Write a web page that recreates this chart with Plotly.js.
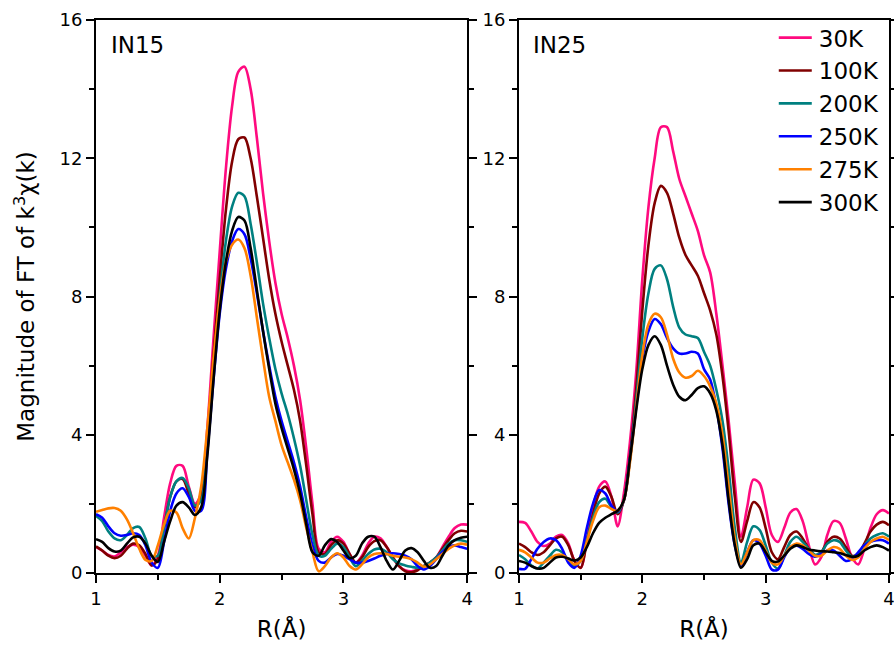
<!DOCTYPE html>
<html>
<head>
<meta charset="utf-8">
<script src="https://cdn.plot.ly/plotly-3.0.1.min.js"></script>
<style>html,body{margin:0;padding:0;background:#fff;}#chart{width:894px;height:646px;}</style>
</head>
<body>
<div id="chart"></div>
<script>
// R grid (Å), shared by all series
const R = [1.00,1.05,1.10,1.15,1.20,1.25,1.30,1.35,1.40,1.45,1.50,1.55,1.60,1.65,1.70,1.75,1.80,1.85,1.90,1.95,
  2.00,2.05,2.10,2.15,2.20,2.25,2.30,2.35,2.40,2.45,2.50,2.55,2.60,2.65,2.70,2.75,2.80,2.85,2.90,2.95,
  3.00,3.05,3.10,3.15,3.20,3.25,3.30,3.35,3.40,3.45,3.50,3.55,3.60,3.65,3.70,3.75,3.80,3.85,3.90,3.95,4.00];

const seriesNames = ['30K','100K','200K','250K','275K','300K'];
const seriesColors = ['#FF0A7F','#800000','#008080','#0000FF','#FF8000','#000000'];
const panelLabels = ['IN15','IN25'];

// IN15 panel
const in15_30K = [0.75,0.65,0.52,0.48,0.60,0.75,0.82,0.75,0.50,0.22,0.50,1.60,2.60,3.10,3.10,2.50,2.00,2.30,4.20,6.80,
  9.30,11.7,13.5,14.5,14.65,14.0,12.6,11.0,9.60,8.40,7.50,6.80,6.00,5.00,3.60,2.00,0.70,0.60,0.90,1.05,
  0.90,0.55,0.30,0.50,0.85,1.05,1.00,0.75,0.45,0.20,0.08,0.05,0.10,0.20,0.30,0.45,0.75,1.05,1.30,1.40,1.40];
const in15_100K = [0.77,0.65,0.50,0.43,0.50,0.70,0.85,0.80,0.55,0.22,0.40,1.30,2.20,2.65,2.72,2.30,1.90,2.20,3.90,6.30,
  8.50,10.5,11.9,12.55,12.6,12.0,10.9,9.70,8.50,7.50,6.70,6.00,5.30,4.40,3.10,1.70,0.60,0.55,0.80,0.95,
  0.85,0.55,0.30,0.45,0.75,0.92,0.95,0.75,0.45,0.20,0.05,0.02,0.08,0.20,0.30,0.45,0.70,0.95,1.15,1.22,1.20];
const in15_200K = [1.65,1.50,1.20,1.00,0.95,1.10,1.30,1.33,1.00,0.50,0.50,1.30,2.20,2.65,2.75,2.45,1.95,2.10,3.80,6.00,
  8.00,9.60,10.6,11.0,10.9,10.1,9.00,7.80,6.80,5.90,5.20,4.60,3.90,3.10,2.10,1.10,0.50,0.50,0.70,0.85,
  0.75,0.45,0.20,0.35,0.55,0.68,0.70,0.60,0.40,0.28,0.22,0.18,0.15,0.20,0.30,0.45,0.65,0.85,0.95,0.95,0.90];
const in15_250K = [1.70,1.60,1.35,1.15,1.08,1.10,1.15,1.10,0.80,0.30,0.15,0.90,1.80,2.30,2.45,2.20,1.80,1.80,3.50,5.60,
  7.50,8.80,9.60,9.95,9.80,9.10,8.10,7.00,6.00,5.10,4.40,3.80,3.20,2.50,1.60,0.80,0.35,0.30,0.45,0.55,
  0.50,0.40,0.30,0.30,0.35,0.42,0.50,0.55,0.57,0.55,0.50,0.40,0.20,0.10,0.20,0.40,0.60,0.75,0.80,0.75,0.70];
const in15_275K = [1.77,1.82,1.87,1.88,1.80,1.55,1.15,0.70,0.38,0.35,0.80,1.40,1.80,1.75,1.30,1.00,1.60,2.50,4.20,6.20,
  7.90,9.00,9.50,9.65,9.40,8.60,7.40,6.20,5.10,4.40,3.70,3.20,2.70,2.10,1.30,0.60,0.05,0.20,0.45,0.57,
  0.45,0.20,0.10,0.25,0.45,0.55,0.57,0.55,0.50,0.47,0.45,0.40,0.30,0.18,0.25,0.40,0.55,0.70,0.80,0.85,0.82];
const in15_300K = [0.98,0.90,0.72,0.62,0.65,0.85,1.03,1.05,0.85,0.50,0.32,0.90,1.50,1.95,2.05,1.90,1.68,1.90,3.40,5.60,
  7.60,9.00,9.90,10.3,10.2,9.40,8.20,7.00,5.90,4.90,4.20,3.60,3.00,2.30,1.40,0.60,0.50,0.80,0.98,0.90,
  0.65,0.43,0.50,0.85,1.05,1.05,0.75,0.35,0.10,0.35,0.65,0.72,0.60,0.35,0.15,0.20,0.50,0.80,0.95,1.02,1.05];

// IN25 panel
const in25_30K = [1.48,1.45,1.20,0.90,0.78,0.85,1.05,1.10,0.85,0.35,0.15,1.00,1.90,2.50,2.65,2.20,1.35,2.30,3.80,5.80,
  8.50,10.6,12.0,12.9,12.9,12.2,11.4,10.9,10.4,9.90,9.20,8.70,7.50,6.00,4.40,2.60,1.05,1.90,2.70,2.60,
  1.90,1.10,0.90,1.30,1.75,1.85,1.50,0.80,0.25,0.45,1.10,1.50,1.45,1.00,0.45,0.25,0.70,1.30,1.70,1.82,1.72];
const in25_100K = [0.85,0.75,0.60,0.52,0.60,0.80,1.00,1.05,0.80,0.35,0.15,0.90,1.70,2.30,2.50,2.20,1.70,2.10,3.40,5.30,
  7.60,9.50,10.7,11.2,11.0,10.4,9.70,9.20,8.90,8.60,8.10,7.60,6.90,5.70,4.10,2.20,0.90,1.50,2.05,1.90,
  1.30,0.60,0.40,0.75,1.10,1.20,1.00,0.70,0.50,0.60,0.90,1.05,1.00,0.75,0.50,0.55,0.85,1.20,1.40,1.48,1.38];
const in25_200K = [0.52,0.40,0.22,0.13,0.30,0.50,0.67,0.60,0.35,0.20,0.35,0.95,1.60,2.05,2.15,1.90,1.75,2.10,3.30,5.00,
  6.80,8.10,8.80,8.90,8.50,7.70,7.10,6.90,6.85,6.80,6.40,6.00,5.30,4.40,3.00,1.30,0.30,0.90,1.35,1.25,
  0.80,0.30,0.13,0.50,0.90,1.05,0.90,0.70,0.53,0.60,0.85,0.95,0.90,0.65,0.47,0.55,0.80,1.00,1.10,1.15,1.05];
const in25_250K = [0.12,0.12,0.40,0.70,0.90,1.00,0.95,0.70,0.30,0.15,0.50,1.30,2.00,2.40,2.30,1.95,1.78,2.10,3.30,4.80,
  6.20,7.00,7.35,7.20,6.80,6.50,6.35,6.35,6.40,6.35,5.90,5.60,4.80,3.60,2.00,0.80,0.20,0.60,0.95,0.85,
  0.50,0.10,0.10,0.45,0.75,0.80,0.70,0.55,0.47,0.55,0.65,0.65,0.50,0.35,0.40,0.60,0.80,0.90,0.95,0.95,0.85];
const in25_275K = [0.67,0.60,0.45,0.30,0.30,0.42,0.52,0.52,0.40,0.25,0.35,0.90,1.50,1.90,1.95,1.85,1.80,2.10,3.20,4.80,
  6.30,7.20,7.50,7.40,6.90,6.20,5.80,5.65,5.70,5.85,5.70,5.40,4.90,4.00,2.50,1.00,0.25,0.60,0.95,0.95,
  0.65,0.30,0.25,0.50,0.75,0.85,0.80,0.65,0.50,0.50,0.65,0.75,0.70,0.50,0.38,0.45,0.70,0.90,1.00,1.05,0.95];
const in25_300K = [0.35,0.30,0.20,0.13,0.15,0.30,0.45,0.47,0.42,0.36,0.45,0.75,1.15,1.45,1.60,1.70,1.80,2.10,3.30,4.70,
  5.90,6.60,6.85,6.60,6.00,5.45,5.10,5.00,5.15,5.35,5.40,5.20,4.70,3.70,2.10,0.80,0.15,0.40,0.80,0.85,
  0.60,0.35,0.33,0.50,0.70,0.80,0.75,0.68,0.65,0.63,0.62,0.60,0.58,0.52,0.47,0.50,0.65,0.75,0.80,0.75,0.65];

const xTickVals = [1,2,3,4];
const yTickVals = [0,4,8,12,16];

const left = [in15_30K,in15_100K,in15_200K,in15_250K,in15_275K,in15_300K];
const right = [in25_30K,in25_100K,in25_200K,in25_250K,in25_275K,in25_300K];

const FONT = '"DejaVu Sans", Arial, sans-serif';
const traces = [];
left.forEach((ys,i)=>traces.push({x:R,y:ys,xaxis:'x',yaxis:'y',type:'scatter',mode:'lines',
  name:seriesNames[i],legendgroup:'g'+i,showlegend:false,
  line:{color:seriesColors[i],width:2.6,shape:'spline',smoothing:0.9}}));
right.forEach((ys,i)=>traces.push({x:R,y:ys,xaxis:'x2',yaxis:'y2',type:'scatter',mode:'lines',
  name:seriesNames[i],legendgroup:'g'+i,showlegend:true,
  line:{color:seriesColors[i],width:2.6,shape:'spline',smoothing:0.9}}));

function xax(dom){return {domain:dom,range:[1,4],tickvals:xTickVals,ticktext:xTickVals.map(String),
  ticks:'outside',ticklen:8,tickwidth:2,tickcolor:'#000',showline:true,linewidth:2,linecolor:'#000',mirror:true,
  showgrid:false,zeroline:false,ticklabeloverflow:'allow',tickfont:{family:FONT,size:18,color:'#000'},
  minor:{dtick:0.5,tick0:1,ticks:'outside',ticklen:5,tickwidth:2,tickcolor:'#000',showgrid:false},
  title:{text:'R(Å)',font:{family:FONT,size:23,color:'#000'},standoff:13}};}
function yax(anchor,withTitle){const a={domain:[0,1],range:[0,16],anchor:anchor,tickvals:yTickVals,ticktext:yTickVals.map(String),
  ticks:'outside',ticklen:8,tickwidth:2,tickcolor:'#000',showline:true,linewidth:2,linecolor:'#000',mirror:'ticks',
  showgrid:false,zeroline:false,ticklabeloverflow:'allow',tickfont:{family:FONT,size:18,color:'#000'},
  minor:{dtick:2,tick0:0,ticks:'outside',ticklen:5,tickwidth:2,tickcolor:'#000',showgrid:false}};
  if(withTitle){a.title={text:'Magnitude of FT of k<sup>3</sup>χ(k)',font:{family:FONT,size:23,color:'#000'},standoff:18};}
  return a;}

const layout = {
  width:894,height:646,paper_bgcolor:'#fff',plot_bgcolor:'#fff',
  margin:{l:96,r:5,t:20,b:73},
  font:{family:FONT,color:'#000'},
  xaxis:xax([0,0.468]), yaxis:yax('x',true),
  xaxis2:xax([0.5334,1]), yaxis2:yax('x2',false),
  showlegend:true,
  legend:{x:0.861,y:1.007,xanchor:'left',yanchor:'top',bgcolor:'rgba(0,0,0,0)',
    font:{family:FONT,size:23,color:'#000'},traceorder:'grouped',tracegroupgap:0,itemwidth:30},
  annotations:[
    {text:panelLabels[0],xref:'paper',yref:'paper',x:0.017,y:0.955,xanchor:'left',yanchor:'middle',showarrow:false,font:{family:FONT,size:23,color:'#000'}},
    {text:panelLabels[1],xref:'paper',yref:'paper',x:0.5486,y:0.955,xanchor:'left',yanchor:'middle',showarrow:false,font:{family:FONT,size:23,color:'#000'}}
  ]
};
const gd = document.getElementById('chart');
function stretchLegendLines(){
  gd.querySelectorAll('g.legendlines path').forEach(function(p){p.setAttribute('d','M-27,0h60');});
}
Plotly.newPlot(gd,traces,layout,{staticPlot:true,displayModeBar:false}).then(function(){
  stretchLegendLines();
  setTimeout(stretchLegendLines,0);
  setTimeout(stretchLegendLines,200);
  if(gd.on){gd.on('plotly_afterplot',stretchLegendLines);}
});
</script>
</body>
</html>
